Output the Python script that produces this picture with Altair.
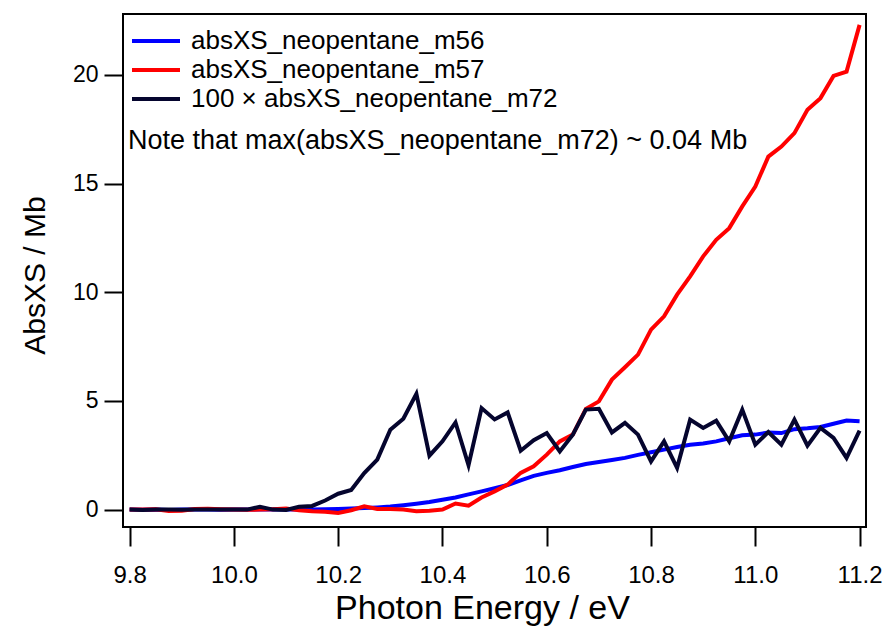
import altair as alt
import pandas as pd

# Photon energy grid (eV)
energy = [9.800, 9.825, 9.850, 9.875, 9.900, 9.925, 9.950, 9.975,
          10.000, 10.025, 10.050, 10.075, 10.100, 10.125, 10.150, 10.175,
          10.200, 10.225, 10.250, 10.275, 10.300, 10.325, 10.350, 10.375,
          10.400, 10.425, 10.450, 10.475, 10.500, 10.525, 10.550, 10.575,
          10.600, 10.625, 10.650, 10.675, 10.700, 10.725, 10.750, 10.775,
          10.800, 10.825, 10.850, 10.875, 10.900, 10.925, 10.950, 10.975,
          11.000, 11.025, 11.050, 11.075, 11.100, 11.125, 11.150, 11.175,
          11.200]

# Absolute cross sections (Mb)
m56 = [0.0, -0.01, 0.0, -0.02, 0.0, 0.01, 0.0, -0.01, 0.0, 0.0, 0.01, 0.0,
       0.0, 0.01, 0.01, 0.02, 0.03, 0.05, 0.07, 0.10, 0.14, 0.20, 0.27, 0.35,
       0.45, 0.56, 0.70, 0.84, 0.98, 1.13, 1.35, 1.55, 1.69, 1.81, 1.96, 2.10,
       2.19, 2.28, 2.38, 2.52, 2.64, 2.76, 2.88, 2.98, 3.04, 3.14, 3.28, 3.42,
       3.45, 3.55, 3.52, 3.70, 3.74, 3.80, 3.95, 4.10, 4.06]

m57 = [0.0, 0.0, 0.02, -0.06, -0.05, 0.03, 0.04, 0.02, 0.0, -0.01, 0.0, 0.02,
       0.05, -0.03, -0.08, -0.10, -0.15, -0.03, 0.15, 0.03, 0.03, 0.0, -0.08,
       -0.05, 0.0, 0.28, 0.18, 0.56, 0.84, 1.15, 1.69, 1.99, 2.53, 3.14, 3.45,
       4.63, 4.98, 5.98, 6.55, 7.13, 8.28, 8.89, 9.89, 10.73, 11.65, 12.41,
       12.95, 13.95, 14.86, 16.24, 16.70, 17.32, 18.39, 18.93, 19.95, 20.15,
       22.30]

m72_x100 = [0.0, -0.02, 0.0, 0.0, -0.01, 0.0, 0.0, 0.0, 0.0, 0.0, 0.13, 0.0,
            -0.02, 0.13, 0.17, 0.42, 0.73, 0.90, 1.68, 2.30, 3.68, 4.18, 5.33,
            2.48, 3.14, 4.01, 2.04, 4.67, 4.15, 4.47, 2.71, 3.19, 3.52, 2.68,
            3.45, 4.60, 4.64, 3.55, 3.99, 3.45, 2.22, 3.14, 1.92, 4.14, 3.76,
            4.09, 3.14, 4.60, 2.99, 3.57, 2.99, 4.14, 2.94, 3.76, 3.30, 2.38,
            3.63]

series_names = ["absXS_neopentane_m56", "absXS_neopentane_m57",
                "100 \u00d7 absXS_neopentane_m72"]
series_colors = ["#0000ff", "#ff0000", "#05052e"]
x_ticks = [9.8, 10.0, 10.2, 10.4, 10.6, 10.8, 11.0, 11.2]
y_ticks = [0, 5, 10, 15, 20]
note = "Note that max(absXS_neopentane_m72) ~ 0.04 Mb"

rows = []
for name, vals in zip(series_names, [m56, m57, m72_x100]):
    for e, v in zip(energy, vals):
        rows.append({"energy": e, "xs": v, "series": name})
df = pd.DataFrame(rows)

FONT = "Liberation Sans"

lines = alt.Chart(df).mark_line(strokeWidth=4, strokeJoin="miter").encode(
    x=alt.X("energy:Q",
            scale=alt.Scale(domain=[9.7873, 11.2123], nice=False, zero=False),
            axis=alt.Axis(title="Photon Energy / eV", values=x_ticks,
                          format=".1f", labelPadding=17, titlePadding=4,
                          labelFontSize=24, titleFontSize=34, titleX=359)),
    y=alt.Y("xs:Q",
            scale=alt.Scale(domain=[-0.8, 22.8], nice=False, zero=False),
            axis=alt.Axis(title="AbsXS / Mb", values=y_ticks, format="d",
                          labelPadding=6, titlePadding=22, titleY=261,
                          labelFontSize=23, titleFontSize=30)),
    color=alt.Color("series:N",
                    scale=alt.Scale(domain=series_names, range=series_colors),
                    legend=alt.Legend(orient="none", legendX=20, legendY=14,
                                      title=None, symbolType="M-3,0H3",
                                      symbolStrokeWidth=4, symbolSize=256,
                                      labelFontSize=26, labelFont=FONT,
                                      labelColor="black", rowPadding=3,
                                      labelOffset=22, labelLimit=600,
                                      padding=0)),
    order=alt.Order("energy:Q"),
)

note_text = alt.Chart(pd.DataFrame({"t": [note]})).mark_text(
    align="left", baseline="middle", fontSize=27, font=FONT, color="black"
).encode(x=alt.value(5), y=alt.value(127), text="t:N")

chart = alt.layer(lines, note_text).properties(
    width=743, height=513,
    autosize=alt.AutoSizeParams(type="none"),
    padding={"left": 123, "top": 14, "right": 24, "bottom": 103},
    background="white",
).configure_view(
    stroke="black", strokeWidth=2
).configure_axis(
    domain=False, grid=False, tickColor="black", tickWidth=2, tickSize=19,
    labelColor="black", titleColor="black", labelFont=FONT, titleFont=FONT,
    titleFontWeight="normal"
)

chart.save("out.html", embed_options={"renderer": "svg", "actions": False})
